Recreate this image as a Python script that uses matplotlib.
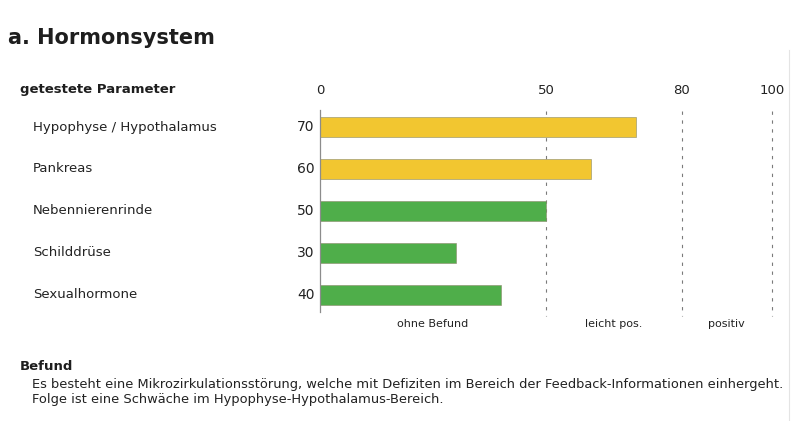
import matplotlib.pyplot as plt

parameters = ['Hypophyse / Hypothalamus', 'Pankreas', 'Nebennierenrinde',
              'Schilddrüse', 'Sexualhormone']
values = [70, 60, 50, 30, 40]
ticks = [0, 50, 80, 100]
zones = ['ohne Befund', 'leicht pos.', 'positiv']
zone_edges = [0, 50, 80, 100]

title = 'a. Hormonsystem'
befund = ('Es besteht eine Mikrozirkulationsstörung, welche mit Defiziten im Bereich der '
          'Feedback-Informationen einhergeht.\n'
          'Folge ist eine Schwäche im Hypophyse-Hypothalamus-Bereich.')

W, H = 800, 421
fig = plt.figure(figsize=(W / 100, H / 100), dpi=100)
fig.patch.set_facecolor('white')

# axes: x 0 -> 320px, 100 -> 772px; rows 42px apart, first centred at y=127px
ax = fig.add_axes([320 / W, (H - 316) / H, 452 / W, 210 / H])
ax.set_xlim(0, 100)
ax.set_ylim(len(parameters) - 0.5, -0.5)
ax.axis('off')

yellow, green = '#f2c630', '#4fae4a'
colors = [yellow if v > 50 else green for v in values]
ax.barh(range(len(values)), values, height=0.46, color=colors,
        edgecolor='#8a8a6a', linewidth=0.4, zorder=2)

# zero axis and dashed zone lines
ax.plot([0, 0], [-0.4, 4.4], color='#8c8c8c', lw=0.9, zorder=3, clip_on=False)
for t in ticks[1:]:
    ax.plot([t, t], [-0.38, 4.5], color='#7a7a7a', lw=0.8,
            linestyle=(0, (3, 5)), zorder=1, clip_on=False)

for t in ticks:
    ax.text(t, -0.88, str(t), ha='center', va='center', fontsize=9.5, color='#222222')

for i, (p, v) in enumerate(zip(parameters, values)):
    ax.text(-1.2, i, str(v), ha='right', va='center', fontsize=10, color='#222222')
    fig.text(33 / W, 1 - (127 + 42 * i) / H, p, ha='left', va='center',
             fontsize=9.5, color='#222222')

for lo, hi, z in zip(zone_edges[:-1], zone_edges[1:], zones):
    ax.text((lo + hi) / 2, 4.7, z, ha='center', va='center', fontsize=8, color='#222222')

fig.text(8 / W, 1 - 38 / H, title, ha='left', va='center', fontsize=15,
         fontweight='bold', color='#1e1e1e')
fig.text(20 / W, 1 - 89 / H, 'getestete Parameter', ha='left', va='center',
         fontsize=9.5, fontweight='bold', color='#1e1e1e')
fig.text(20 / W, 1 - 367 / H, 'Befund', ha='left', va='center', fontsize=9.5,
         fontweight='bold', color='#1e1e1e')
fig.text(32 / W, 1 - 392 / H, befund, ha='left', va='center', fontsize=9.4,
         color='#222222', linespacing=1.15)

# faint scan border on the right
fig.add_artist(plt.Line2D([789 / W, 789 / W], [0, 1 - 50 / H], color='#e4e4e4', lw=0.8))

fig.savefig('out.png', dpi=100, facecolor='white')
